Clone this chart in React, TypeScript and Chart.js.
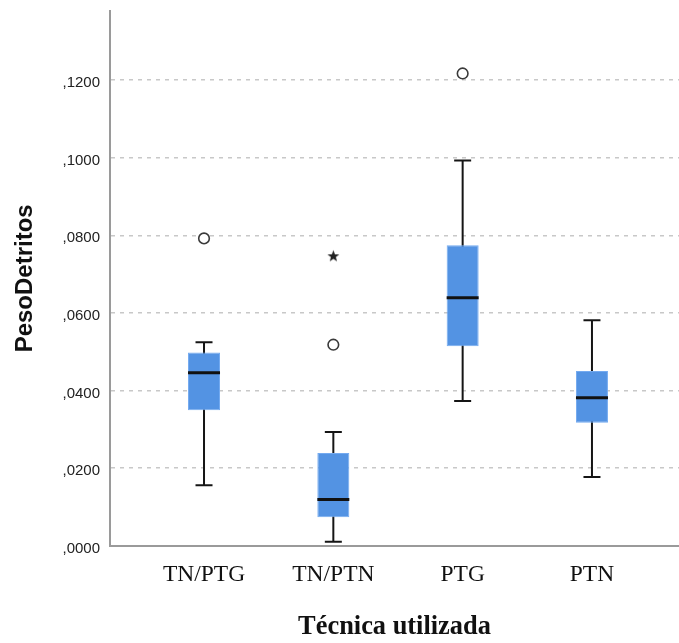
import React, { useEffect, useRef } from 'react';
import { Chart, registerables } from 'chart.js';

Chart.register(...registerables);

const categories = ['TN/PTG', 'TN/PTN', 'PTG', 'PTN'];
const whiskerLow = [0.0156, 0.001, 0.0373, 0.0177];
const quartile1 = [0.0349, 0.0073, 0.0514, 0.0317];
const medians = [0.0446, 0.0119, 0.0639, 0.0381];
const quartile3 = [0.0498, 0.0239, 0.0774, 0.045];
const whiskerHigh = [0.0524, 0.0293, 0.0993, 0.0581];
const outlierCategory = [0, 1, 2];
const outlierValues = [0.0792, 0.0518, 0.1217];
const extremeCategory = [1];
const extremeValues = [0.0747];
const yTickValues = [0, 0.02, 0.04, 0.06, 0.08, 0.1, 0.12];
const yTitle = 'PesoDetritos';
const xTitle = 'Técnica utilizada';

const pos = (i: number) => i + 1;

function makeStar(): HTMLCanvasElement {
  const c = document.createElement('canvas');
  c.width = 13;
  c.height = 13;
  const ctx = c.getContext('2d')!;
  ctx.fillStyle = '#222';
  ctx.beginPath();
  for (let k = 0; k < 10; k++) {
    const r = k % 2 === 0 ? 6.2 : 2.6;
    const a = -Math.PI / 2 + (k * Math.PI) / 5;
    const px = 6.5 + r * Math.cos(a);
    const py = 7 + r * Math.sin(a);
    if (k === 0) ctx.moveTo(px, py);
    else ctx.lineTo(px, py);
  }
  ctx.closePath();
  ctx.fill();
  return c;
}

export default function App() {
  const ref = useRef<HTMLCanvasElement | null>(null);

  useEffect(() => {
    if (!ref.current) return;
    const star = makeStar();
    const chart = new Chart(ref.current, {
      type: 'bar',
      data: {
        datasets: [
          {
            type: 'bar',
            label: 'whisker',
            data: categories.map((_, i) => ({ x: pos(i), y: [whiskerLow[i], whiskerHigh[i]] })),
            backgroundColor: '#151515',
            borderWidth: 0,
            grouped: false,
            maxBarThickness: 2,
            order: 4,
          } as any,
          {
            type: 'bar',
            label: 'box',
            data: categories.map((_, i) => ({ x: pos(i), y: [quartile1[i], quartile3[i]] })),
            backgroundColor: '#5393e3',
            borderColor: '#74aaf0',
            borderWidth: 1,
            borderSkipped: false,
            grouped: false,
            maxBarThickness: 32,
            order: 3,
          } as any,
          {
            type: 'scatter',
            label: 'caps',
            data: [
              ...categories.map((_, i) => ({ x: pos(i), y: whiskerLow[i] })),
              ...categories.map((_, i) => ({ x: pos(i), y: whiskerHigh[i] })),
            ],
            pointStyle: 'line',
            pointRadius: 8.5,
            pointBorderWidth: 2,
            pointBorderColor: '#151515',
            order: 2,
          } as any,
          {
            type: 'scatter',
            label: 'median',
            data: categories.map((_, i) => ({ x: pos(i), y: medians[i] })),
            pointStyle: 'line',
            pointRadius: 16,
            pointBorderWidth: 3,
            pointBorderColor: '#111',
            order: 1,
          } as any,
          {
            type: 'scatter',
            label: 'outliers',
            data: outlierCategory.map((c, i) => ({ x: pos(c), y: outlierValues[i] })),
            pointStyle: 'circle',
            pointRadius: 5.3,
            pointBorderWidth: 1.6,
            pointBorderColor: '#3a3a3a',
            pointBackgroundColor: '#ffffff',
            order: 1,
          } as any,
          {
            type: 'scatter',
            label: 'extremes',
            data: extremeCategory.map((c, i) => ({ x: pos(c), y: extremeValues[i] })),
            pointStyle: star,
            pointRadius: 6,
            order: 1,
          } as any,
        ],
      },
      options: {
        responsive: true,
        maintainAspectRatio: false,
        animation: false,
        events: [],
        layout: { autoPadding: false, padding: { top: 11, left: 0, right: 0, bottom: 0 } },
        plugins: { legend: { display: false }, tooltip: { enabled: false } },
        scales: {
          x: {
            type: 'linear',
            min: 0.273,
            max: 4.673,
            offset: false,
            grid: { drawOnChartArea: false, drawTicks: false },
            border: { display: true, color: '#9a9a9a', width: 2 },
            afterBuildTicks: (s: any) => {
              s.ticks = categories.map((_, i) => ({ value: pos(i) }));
            },
            afterFit: (s: any) => {
              s.height = 97.3;
              s.paddingLeft = 0;
              s.paddingRight = 0;
            },
            ticks: {
              callback: (v: any) => categories[Math.round(Number(v)) - 1] ?? '',
              font: { family: '"Liberation Serif", "Times New Roman", serif', size: 23.5 },
              color: '#111',
              padding: 15,
              maxRotation: 0,
              autoSkip: false,
            },
            title: {
              display: true,
              text: xTitle,
              font: { family: '"Liberation Serif", "Times New Roman", serif', size: 26.4, weight: 'bold' },
              color: '#111',
              padding: { top: 0, bottom: 0 },
            },
          },
          y: {
            type: 'linear',
            min: 0,
            max: 0.1378,
            afterBuildTicks: (s: any) => {
              s.ticks = yTickValues.map((v) => ({ value: v }));
            },
            afterFit: (s: any) => {
              s.width = 110;
              s.paddingTop = 0;
              s.paddingBottom = 0;
            },
            grid: { color: '#c8c8c8', lineWidth: 1.5, drawTicks: false },
            border: { display: true, color: '#9a9a9a', width: 2, dash: [4, 5] },
            ticks: {
              callback: (v: any) => ',' + Number(v).toFixed(4).split('.')[1],
              font: { family: '"Liberation Sans", Arial, sans-serif', size: 15 },
              color: '#222',
              padding: 10,
              labelOffset: 3,
            },
            title: {
              display: true,
              text: yTitle,
              font: { family: '"Liberation Sans", Arial, sans-serif', size: 24, weight: 'bold' },
              color: '#111',
              padding: { top: 11, bottom: 0 },
            },
          },
        },
      } as any,
    });
    return () => chart.destroy();
  }, []);

  return (
    <div style={{ position: 'absolute', left: 0, top: 0, width: 679, height: 643, background: '#fff' }}>
      <canvas ref={ref} />
    </div>
  );
}
